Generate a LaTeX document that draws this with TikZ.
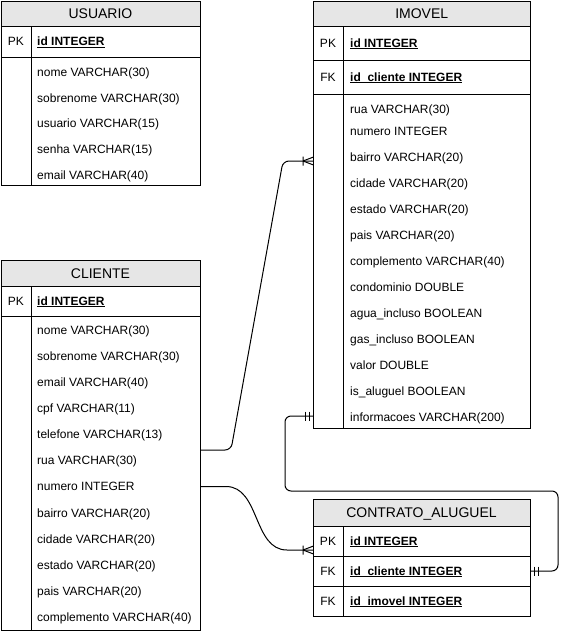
\documentclass[tikz,border=0pt]{standalone}
\usepackage{fontspec}
\setmainfont{Liberation Sans}
\usetikzlibrary{calc}
\definecolor{hdrgray}{HTML}{E6E6E6}

% underline drawn at a fixed depth below the baseline
\newcommand{\keyline}[1]{\setbox0\hbox{#1}\rlap{\rule[-1.7pt]{\wd0}{0.8pt}}\box0}

\tikzset{
  tbl/.style={draw, line width=1pt},
  hdr/.style={draw, line width=1pt, fill=hdrgray},
  title/.style={inner sep=0pt, font=\fontsize{14}{16}\selectfont, text height=10pt, text depth=0pt},
  fld/.style={anchor=west, inner sep=0pt, font=\fontsize{12}{14}\selectfont, text height=8.6pt, text depth=0pt},
  keyfld/.style={fld, font=\fontsize{12}{14}\selectfont\bfseries},
  keytag/.style={inner sep=0pt, font=\fontsize{12}{14}\selectfont, text height=8.6pt, text depth=0pt},
  rel/.style={line width=1pt, rounded corners=6pt},
  crowsfoot/.pic={\draw[line width=1pt] (0,0) -- (10,-3.8) (0,0) -- (10,3.8) (0,-4.5) -- (0,4.5);},
  mandone/.pic={\draw[line width=1pt] (0,-4.5) -- (0,4.5) (4,-4.5) -- (4,4.5);},
}

\begin{document}
\begin{tikzpicture}[x=1pt,y=-1pt]
\useasboundingbox (0,0) rectangle (570,633);

% ---------------- USUARIO ----------------
\draw[hdr] (1,1) rectangle (200,26);
\node[title] (usuarioT) at (100.5,13.5) {USUARIO};
\draw[tbl] (1,1) rectangle (200,185);
\draw[tbl] (1,57) -- (200,57) (31,26) -- (31,185);
\node[keytag] (usuarioPK) at (16,41.5) {PK};
\node[keyfld] (usuarioId) at (37,41.5) {\keyline{id INTEGER}};
\foreach \t [count=\i] in {nome VARCHAR(30), sobrenome VARCHAR(30), usuario VARCHAR(15), senha VARCHAR(15), email VARCHAR(40)}
  \node[fld] (usuarioF\i) at (37,{72+(\i-1)*25.8}) {\t};

% ---------------- CLIENTE ----------------
\draw[hdr] (1,260) rectangle (200,286);
\node[title] (clienteT) at (100.5,273) {CLIENTE};
\draw[tbl] (1,260) rectangle (200,630);
\draw[tbl] (1,316) -- (200,316) (31,286) -- (31,630);
\node[keytag] (clientePK) at (16,301) {PK};
\node[keyfld] (clienteId) at (37,301) {\keyline{id INTEGER}};
\foreach \t [count=\i] in {nome VARCHAR(30), sobrenome VARCHAR(30), email VARCHAR(40), cpf VARCHAR(11), telefone VARCHAR(13), rua VARCHAR(30), numero INTEGER, bairro VARCHAR(20), cidade VARCHAR(20), estado VARCHAR(20), pais VARCHAR(20), complemento VARCHAR(40)}
  \node[fld] (clienteF\i) at (37,{330+(\i-1)*26.1}) {\t};

% ---------------- IMOVEL ----------------
\draw[hdr] (313,1) rectangle (530.5,26);
\node[title] (imovelT) at (421.75,13.5) {IMOVEL};
\draw[tbl] (313,1) rectangle (530.5,428);
\draw[tbl] (313,60) -- (530.5,60) (313,94) -- (530.5,94) (343,26) -- (343,428);
\node[keytag] (imovelPK) at (328,43) {PK};
\node[keyfld] (imovelId) at (350,43) {\keyline{id INTEGER}};
\node[keytag] (imovelFK) at (328,77) {FK};
\node[keyfld] (imovelCli) at (350,77) {\keyline{id\_cliente INTEGER}};
\node[fld] (imovelF1) at (350,109) {rua VARCHAR(30)};
\node[fld] (imovelF2) at (350,131) {numero INTEGER};
\foreach \t [count=\i] in {bairro VARCHAR(20), cidade VARCHAR(20), estado VARCHAR(20), pais VARCHAR(20), complemento VARCHAR(40), condominio DOUBLE, agua\_incluso BOOLEAN, gas\_incluso BOOLEAN, valor DOUBLE, is\_aluguel BOOLEAN, informacoes VARCHAR(200)}
  \node[fld] (imovelG\i) at (350,{157+(\i-1)*26}) {\t};

% ---------------- CONTRATO_ALUGUEL ----------------
\draw[hdr] (313,499) rectangle (530,526);
\node[title] (contratoT) at (421.5,512.5) {CONTRATO\_ALUGUEL};
\draw[tbl] (313,499) rectangle (530,616);
\draw[tbl] (313,556) -- (530,556) (313,586) -- (530,586) (343,526) -- (343,616);
\node[keytag] (contratoPK) at (328,541) {PK};
\node[keyfld] (contratoId) at (350,541) {\keyline{id INTEGER}};
\node[keytag] (contratoFK1) at (328,571) {FK};
\node[keyfld] (contratoCli) at (350,571) {\keyline{id\_cliente INTEGER}};
\node[keytag] (contratoFK2) at (328,601) {FK};
\node[keyfld] (contratoImo) at (350,601) {\keyline{id\_imovel INTEGER}};

% ---------------- relationships ----------------
\coordinate (cliRua) at (200,450);
\coordinate (imoIn) at (313,161);
\draw[rel] (cliRua) -- ++(31,0) -- ($(imoIn)+(-30,0)$) -- (imoIn);
\path (imoIn) ++(-10,0) pic {crowsfoot};

\coordinate (cliNum) at (200,486.5);
\coordinate (conIn) at (313,550);
\draw[line width=1pt] (cliNum) -- ++(26,0) .. controls +(34,0) and +(-34,0) .. ($(conIn)+(-26,0)$) -- (conIn);
\path (conIn) ++(-10,0) pic {crowsfoot};

\coordinate (imoInfo) at (313,416);
\coordinate (conCli) at (530,571);
\draw[rel] (imoInfo) -- ++(-28,0) |- ($(conCli)+(28,-80)$) |- (conCli);
\path (imoInfo) ++(-8,0) pic {mandone};
\path (conCli) ++(4,0) pic {mandone};
\end{tikzpicture}
\end{document}
